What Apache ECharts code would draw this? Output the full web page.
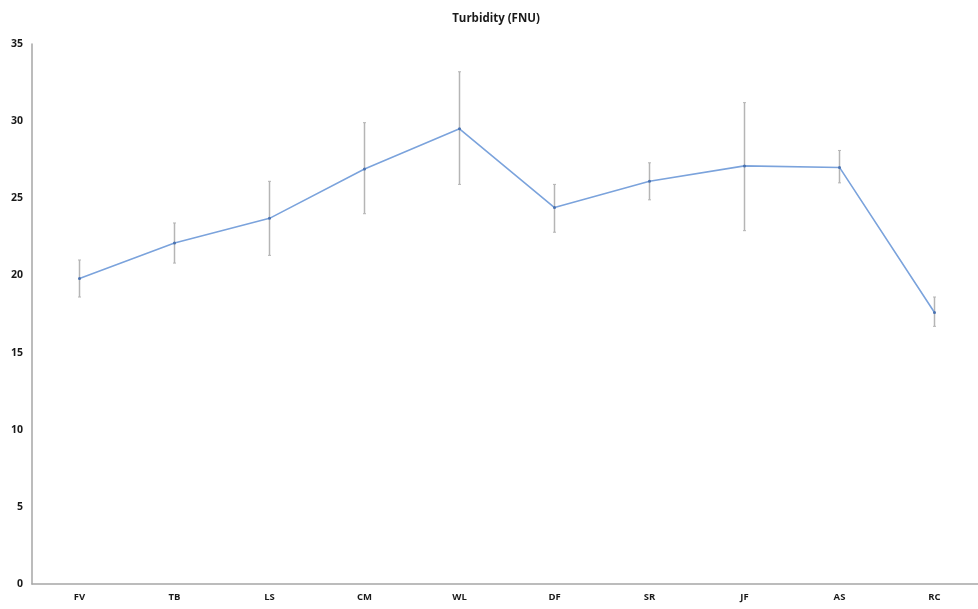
<!DOCTYPE html>
<html>
<head>
<meta charset="utf-8">
<script src="https://cdn.jsdelivr.net/npm/echarts@6/dist/echarts.min.js"></script>
<style>
  html, body { margin: 0; padding: 0; background: #fff; }
  #chart { width: 978px; height: 609px; }
</style>
</head>
<body>
<div id="chart"></div>
<script>
const sites = ['FV', 'TB', 'LS', 'CM', 'WL', 'DF', 'SR', 'JF', 'AS', 'RC']
const turbidity = [19.8, 22.1, 23.7, 26.9, 29.5, 24.4, 26.1, 27.1, 27.0, 17.6]
const errHigh = [21.0, 23.4, 26.1, 29.9, 33.2, 25.9, 27.3, 31.2, 28.1, 18.6]
const errLow = [18.6, 20.8, 21.3, 24.0, 25.9, 22.8, 24.9, 22.9, 26.0, 16.7]
const yTicks = [0, 5, 10, 15, 20, 25, 30, 35]

const chart = echarts.init(document.getElementById('chart'))

const labelFont = 'Open Sans'

chart.setOption({
  animation: false,
  title: {
    text: 'Turbidity (FNU)',
    left: 491,
    textAlign: 'center',
    top: 8,
    textStyle: { fontFamily: labelFont, fontWeight: 700, fontSize: 11.5, color: '#1a1a1a' },
  },
  grid: { top: 44, height: 540, left: 32, width: 950, outerBoundsMode: 'none' },
  xAxis: {
    type: 'category',
    data: sites,
    boundaryGap: true,
    axisLine: { lineStyle: { color: '#a6a6a6', width: 1.5 } },
    axisTick: { show: false },
    axisLabel: { fontFamily: labelFont, fontWeight: 700, fontSize: 9.5, color: '#1a1a1a', margin: 8 },
  },
  yAxis: {
    type: 'value',
    min: yTicks[0],
    max: yTicks[yTicks.length - 1],
    interval: 5,
    splitLine: { show: false },
    axisLine: { show: true, lineStyle: { color: '#a6a6a6', width: 1.5 } },
    axisTick: { show: false },
    axisLabel: { fontFamily: labelFont, fontWeight: 700, fontSize: 10.5, color: '#1a1a1a', margin: 9 },
  },
  series: [
    {
      type: 'custom',
      z: 1,
      data: sites.map((s, i) => [i, errLow[i], errHigh[i]]),
      renderItem: (params, api) => {
        const top = api.coord([api.value(0), api.value(2)])
        const bottom = api.coord([api.value(0), api.value(1)])
        return {
          type: 'group',
          children: [
            {
              type: 'line',
              shape: { x1: top[0], y1: top[1], x2: bottom[0], y2: bottom[1] },
              style: { stroke: '#b5b5b5', lineWidth: 1.5 },
            },
            {
              type: 'line',
              shape: { x1: top[0] - 1.5, y1: top[1], x2: top[0] + 1.5, y2: top[1] },
              style: { stroke: '#b5b5b5', lineWidth: 1 },
            },
            {
              type: 'line',
              shape: { x1: bottom[0] - 1.5, y1: bottom[1], x2: bottom[0] + 1.5, y2: bottom[1] },
              style: { stroke: '#b5b5b5', lineWidth: 1 },
            },
          ],
        }
      },
    },
    {
      type: 'line',
      z: 2,
      data: turbidity,
      symbol: 'circle',
      symbolSize: 3,
      itemStyle: { color: '#4a72b0' },
      lineStyle: { color: '#7ba3dc', width: 1.6 },
    },
  ],
})
</script>
</body>
</html>
